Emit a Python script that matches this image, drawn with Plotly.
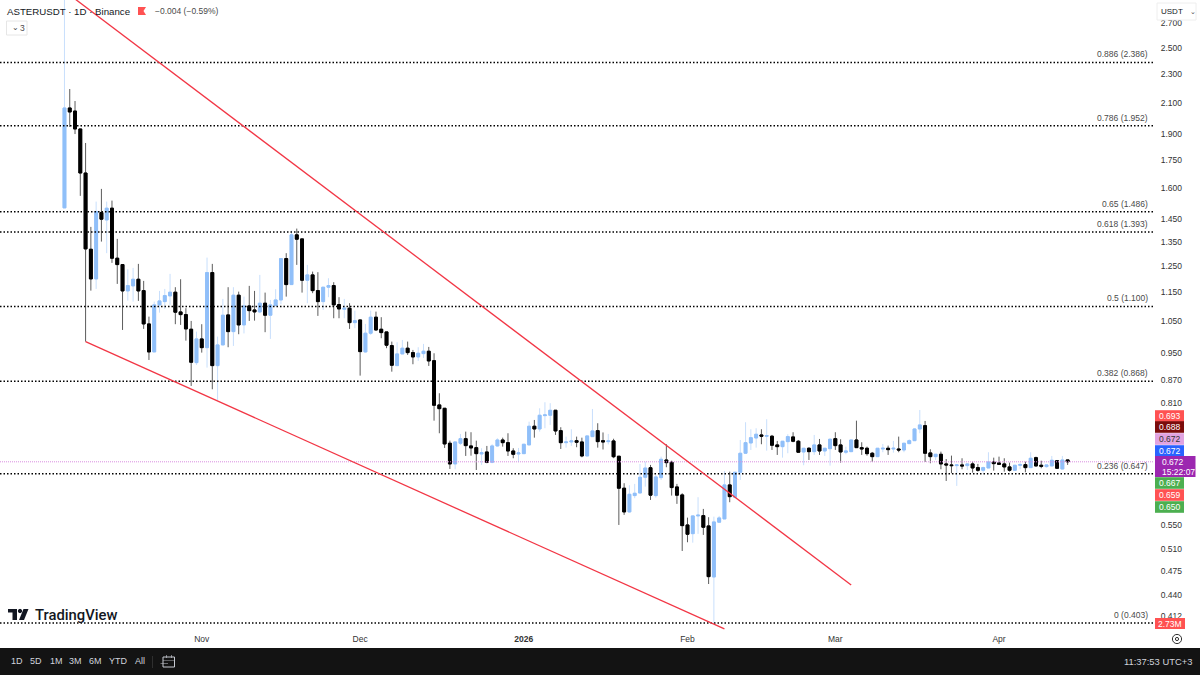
import numpy as np
import pandas as pd
import plotly.graph_objects as go

# Daily candles (first one 6 Oct 2025, last 14 Apr 2026).
dates = pd.date_range("2025-10-06", periods=191, freq="D")

opens = [
    1.504, 2.065, 2.045, 1.932, 1.680, 1.319, 1.2006, 1.4818, 1.4477, 1.5026, 1.2821, 1.2564, 1.1557, 1.1743, 1.1993, 1.1568,
    1.0408, .9523, 1.1056, 1.1171, 1.1376, 1.1510, 1.0812, 1.0720, 1.0234, .9205, .9924, .9653, 1.2249, .9118, .9737, 1.0710,
    1.0157, 1.1401, 1.0375, 1.1020, 1.0880, 1.0812, 1.1115, 1.0700, 1.1031, 1.1231, 1.2805, 1.1791, 1.3806, 1.3631, 1.1956, 1.2160,
    1.1568, 1.1171, 1.1694, 1.1754, 1.1066, 1.0905, 1.0940, 1.0451, 1.0540, .9523, 1.0106, 1.0632, 1.0234, 1.0147, .9716, .9118,
    .9463, .9636, .9502, .9373, .9472, .9544, .9263, .8049, .7964, .7128, .6675, .7128, .7232, .7067, .7029, .6890,
    .6933, .6710, .7067, .7202, .7141, .6955, .6890, .6896, .7090, .7523, .7458, .7780, .7790, .7914, .7418, .7141,
    .7157, .7186, .7157, .6846, .7279, .7418, .7186, .7164, .7180, .6840, .6180, .5732, .6037, .6087, .6399, .6595,
    .6037, .6391, .6759, .6710, .6205, .6050, .5500, .5350, .5660, .5665, .5483, .4663, .5548, .5606, .6245, .6006,
    .6501, .6905, .7134, .7248, .7318, .7288, .7288, .7090, .7051, .7164, .7272, .7173, .6933, .7015, .6940, .7090,
    .6955, .7006, .7232, .7090, .6927, .6940, .7202, .7029, .7015, .6905, .6831, .6999, .7015, .6999, .6999, .6977,
    .7119, .7186, .7458, .7537, .6912, .6831, .6883, .6675, .6654, .6639, .6654, .6639, .6675, .6597, .6542, .6590,
    .6717, .6696, .6675, .6612, .6542, .6647, .6660, .6597, .6809, .6647, .6618, .6633, .6744, .6569, .676,
]
highs = [
    3.0, 2.193, 2.111, 1.932, 1.848, 1.416, 1.5344, 1.5974, 1.5344, 1.5392, 1.3631, 1.2564, 1.2381, 1.2433, 1.2592, 1.1930,
    1.0652, 1.1171, 1.1557, 1.1630, 1.2199, 1.1694, 1.1993, 1.0940, 1.0507, 1.0157, 1.0399, 1.2846, 1.2592, .9997, 1.1267, 1.1694,
    1.1694, 1.1531, 1.1350, 1.1743, 1.1557, 1.2160, 1.1495, 1.1231, 1.1619, 1.2805, 1.3027, 1.3994, 1.4084, 1.3631, 1.2552, 1.2287,
    1.2264, 1.1694, 1.2032, 1.1881, 1.1329, 1.1267, 1.1115, 1.0856, 1.0540, 1.0408, 1.0856, 1.0822, 1.0632, 1.0147, .9840, .9821,
    .9892, .9840, .9583, .9666, .9768, .9675, .9483, .8353, .7964, .7186, .7157, .7341, .7395, .7381, .7186, .7015,
    .7067, .7105, .7241, .7255, .7357, .7015, .7022, .7105, .7633, .7674, .7964, .8118, .8093, .7914, .7499, .7279,
    .7451, .7279, .7255, .7295, .7946, .7595, .7376, .7341, .7230, .6840, .6279, .6239, .6265, .6675, .6723, .6654,
    .6446, .6831, .7105, .6744, .6265, .6082, .5629, .5660, .6006, .5787, .5637, .5647, .5660, .6527, .6513, .6501,
    .7202, .7619, .7451, .7475, .7451, .7691, .7318, .7180, .7173, .7334, .7381, .7202, .7015, .7038, .7318, .7225,
    .7015, .7241, .7381, .7218, .7051, .7202, .7657, .7150, .7051, .6933, .7015, .7112, .7074, .7180, .7279, .7128,
    .7218, .7475, .7921, .7650, .6993, .6883, .6940, .6780, .6853, .6654, .6796, .6675, .6723, .6675, .6618, .6927,
    .6809, .6831, .6796, .6702, .6647, .6702, .6723, .6927, .6831, .6744, .6654, .6846, .6759, .6846, .676,
]
lows = [
    1.504, 1.944, 1.901, 1.5625, .984, 1.1568, 1.1630, 1.3515, 1.3027, 1.2632, 1.1817, 1.0211, 1.1206, 1.1171, 1.1196, 1.0244,
    .9283, .9523, 1.0788, 1.0915, 1.1056, 1.0399, 1.0375, .9870, .8549, .9138, .9502, .9060, .8459, .8177, .9737, .9666,
    .9706, 1.0073, 1.0099, 1.0507, 1.0517, 1.0768, 1.0138, .9924, 1.1031, 1.1080, 1.1350, 1.1791, 1.2552, 1.1495, 1.1115, 1.1474,
    1.0676, 1.0880, 1.1329, 1.0597, 1.0597, 1.0597, 1.0244, 1.0267, .8833, .9502, 1.0052, 1.0189, .9946, .9636, .8945, .9118,
    .9463, .9433, .9158, .9254, .9343, .9109, .7657, .7357, .7022, .6569, .6563, .7090, .6846, .6852, .6548, .6654,
    .6689, .6689, .7051, .7051, .6846, .6796, .6710, .6896, .7090, .7255, .7395, .7475, .7554, .7318, .6999, .7029,
    .7067, .7038, .6818, .6846, .7279, .7029, .6988, .7101, .6798, .5500, .5678, .5719, .5987, .6087, .6211, .5954,
    .5998, .6344, .6605, .6037, .5880, .5064, .5206, .5199, .5346, .5329, .4560, .403, .5548, .5606, .5911, .5987,
    .6344, .6890, .6977, .7029, .7105, .6962, .6977, .6868, .6809, .6905, .7150, .6927, .6647, .6759, .6868, .6868,
    .6846, .6639, .6977, .6702, .6883, .6940, .7029, .6868, .6852, .6717, .6831, .6927, .6868, .6918, .6927, .6927,
    .7105, .7186, .7357, .6717, .6689, .6759, .6563, .6324, .6480, .6225, .6563, .6548, .6493, .6513, .6493, .6590,
    .6534, .6654, .6513, .6513, .6527, .6563, .6501, .6597, .6618, .6584, .6597, .6633, .6569, .6563, .6654,
]
closes = [
    2.065, 2.039, 1.932, 1.680, 1.3205, 1.2006, 1.4865, 1.4510, 1.5026, 1.2821, 1.2564, 1.1557, 1.1754, 1.1993, 1.1557, 1.0408,
    .9523, 1.1056, 1.1196, 1.1387, 1.1510, 1.0802, 1.0720, 1.0244, .9216, .9924, .9653, 1.2249, .9118, .9737, 1.0700, 1.0157,
    1.1401, 1.0375, 1.1020, 1.0856, 1.0812, 1.1115, 1.0700, 1.1056, 1.1231, 1.2805, 1.1791, 1.3806, 1.3618, 1.1956, 1.2160, 1.1568,
    1.1171, 1.1694, 1.1754, 1.1056, 1.0915, 1.0940, 1.0451, 1.0517, .9532, 1.0106, 1.0632, 1.0211, 1.0125, .9728, .9129, .9463,
    .9636, .9502, .9373, .9483, .9544, .9254, .8041, .7954, .7112, .6675, .7157, .7232, .7074, .7022, .6896, .6918,
    .6710, .7067, .7202, .7141, .6955, .6883, .6912, .7105, .7523, .7458, .7790, .7798, .7914, .7411, .7141, .7157,
    .7180, .7150, .6846, .7295, .7411, .7164, .7157, .7180, .6829, .6180, .5732, .6062, .6082, .6399, .6589, .6045,
    .6405, .6774, .6702, .6192, .6045, .5488, .5340, .5660, .5673, .5460, .4668, .5553, .5624, .6245, .6017, .6501,
    .6905, .7141, .7255, .7334, .7288, .7302, .7083, .7051, .7173, .7279, .7173, .6927, .7015, .6940, .7090, .6955,
    .7015, .7218, .7074, .6933, .6955, .7202, .7029, .6999, .6896, .6831, .7015, .7015, .6984, .7015, .6977, .7128,
    .7186, .7458, .7554, .6905, .6831, .6883, .6675, .6654, .6639, .6654, .6633, .6675, .6590, .6542, .6597, .6717,
    .6681, .6668, .6612, .6542, .6647, .6660, .6597, .6796, .6633, .6626, .6654, .6753, .6584, .6759, .672,
]

# Fibonacci retracement levels and the price axis ticks.
fib_levels = ["0.886", "0.786", "0.65", "0.618", "0.5", "0.382", "0.236", "0"]
fib_prices = [2.386, 1.952, 1.486, 1.393, 1.100, 0.868, 0.647, 0.403]
price_ticks = [2.7, 2.5, 2.3, 2.1, 1.9, 1.75, 1.6, 1.45, 1.35, 1.25, 1.15, 1.05, 0.95, 0.87, 0.81, 0.55, 0.51, 0.475, 0.44, 0.412]
month_dates = ["2025-11-01", "2025-12-01", "2026-01-01", "2026-02-01", "2026-03-01", "2026-04-01"]
month_labels = ["Nov", "Dec", "<b>2026</b>", "Feb", "Mar", "Apr"]

# Wedge trend lines.
upper_dates = ["2025-10-06", "2026-03-04"]
upper_prices = [2.993, 0.4547]
lower_dates = ["2025-10-10", "2026-02-08"]
lower_prices = [0.9838, 0.3954]
last_price = 0.672

# Coloured labels stacked on the price scale.
tag_texts = ["0.693", "0.688", "0.672", "0.672", "0.667", "0.659", "0.650"]
tag_colors = ["#ff5252", "#7b0c0c", "#e1a3e1", "#2962ff", "#4caf50", "#ff5252", "#4caf50"]
tag_rows = [416, 427, 439, 451, 483, 495, 507]

BLUE = "#90bff9"
BLUE_WICK = "#c8dffc"
BLACK_WICK = "#5c5c5c"
GREY = "#4a4a4a"
FONT = "Liberation Sans"
W, H = 1200, 675
PLOT_W, PLOT_H = 1153, 630
X_START, X_END = "2025-09-23 19:00", "2026-04-30 04:00"


# Screen pixels to paper coordinates, for the TradingView chrome around the chart.
def px(x):
    return x / PLOT_W


def py(y):
    return 1 - y / PLOT_H


def box(x0, y0, x1, y1, fill, line=None):
    return dict(type="rect", xref="paper", yref="paper", x0=px(x0), x1=px(x1), y0=py(y0), y1=py(y1),
                fillcolor=fill, line=dict(color=line or fill, width=1 if line else 0), layer="above")


def poly(points, fill):
    path = "M " + " L ".join(f"{px(x)},{py(y)}" for x, y in points) + " Z"
    return dict(type="path", xref="paper", yref="paper", path=path, fillcolor=fill, line=dict(width=0), layer="above")


def ring(cx, cy, r, line, fill="rgba(0,0,0,0)"):
    return dict(type="circle", xref="paper", yref="paper", x0=px(cx - r), x1=px(cx + r), y0=py(cy + r), y1=py(cy - r),
                fillcolor=fill, line=dict(color=line, width=1), layer="above")


def label(x, y, text, size=8.5, color=GREY, anchor="left", family=FONT, weight=None):
    font = dict(family=family, size=size, color=color)
    if weight:
        font["weight"] = weight
    return dict(xref="paper", yref="paper", x=px(x), y=py(y), text=text, showarrow=False, xanchor=anchor,
                yanchor="middle", font=font, borderpad=0)


fig = go.Figure()

# Dotted levels and the last price line go under the candles.
for price in fib_prices:
    fig.add_trace(go.Scatter(x=[X_START, X_END], y=[price, price], mode="lines", hoverinfo="skip",
                             line=dict(color="#000000", width=1.5, dash="1.5px 2px")))
fig.add_trace(go.Scatter(x=[X_START, X_END], y=[last_price, last_price], mode="lines", hoverinfo="skip",
                         line=dict(color="#d98ee0", width=1, dash="1px 1px")))

# Wicks first, then the bodies on top so they keep their full colour.
fig.add_trace(go.Candlestick(x=dates, open=opens, high=highs, low=lows, close=closes,
                             increasing=dict(line=dict(color=BLUE_WICK, width=1), fillcolor=BLUE),
                             decreasing=dict(line=dict(color=BLACK_WICK, width=1), fillcolor="#000000")))
body_high = np.maximum(opens, closes)
body_low = np.minimum(opens, closes)
fig.add_trace(go.Candlestick(x=dates, open=opens, high=body_high, low=body_low, close=closes,
                             increasing=dict(line=dict(color=BLUE, width=1), fillcolor=BLUE),
                             decreasing=dict(line=dict(color="#000000", width=1), fillcolor="#000000")))

fig.add_trace(go.Scatter(x=upper_dates, y=upper_prices, mode="lines", line=dict(color="#f23645", width=1.3)))
fig.add_trace(go.Scatter(x=lower_dates, y=lower_prices, mode="lines", line=dict(color="#f23645", width=1.3)))

annotations = []
for level, price in zip(fib_levels, fib_prices):
    annotations.append(dict(xref="paper", yref="y", x=px(1149), y=np.log10(price), text=f"{level} ({price:.3f})",
                            showarrow=False, xanchor="right", yanchor="bottom", yshift=2,
                            font=dict(family=FONT, size=8.5, color=GREY), borderpad=0))

# Legend header, top left.
shapes = [
    poly([(138, 7), (146, 7), (143.5, 11), (146, 15), (138, 15)], "#ff5252"),
    box(6.5, 21, 27, 35, "#ffffff", "#e6e6e6"),
    box(1157, 3, 1196, 20, "#ffffff", "#eeeeee"),
]
annotations += [
    label(6, 11, "ASTERUSDT · 1D · Binance", size=9.7, color="#131722"),
    label(154, 11, "−0.004 (−0.59%)", color=GREY),
    label(11, 28, "⌄", size=8, color=GREY),
    label(19, 28, "3", color=GREY),
    label(1160, 11, "USDT", size=8, color="#131722"),
    label(1189, 11, "⌄", size=7, color=GREY),
]

# Price scale labels.
for text, color, row in zip(tag_texts, tag_colors, tag_rows):
    shapes.append(box(1155, row - 5.8, 1184, row + 5.8, color))
    annotations.append(label(1169.5, row, text, color="#333333" if color == "#e1a3e1" else "#ffffff", anchor="center"))
shapes.append(box(1155, 456, 1195.5, 477, "#9c27b0"))
annotations.append(label(1161, 462, "0.672", color="#ffffff"))
annotations.append(label(1161, 472, "15:22:07", color="#ffffff"))
shapes.append(box(1155, 618, 1185, 629, "#ff5252"))
annotations.append(label(1170, 623.5, "2.73M", color="#ffffff", anchor="center"))

# TradingView logo.
shapes += [
    box(8, 609, 17, 612.5, "#131722"),
    box(12.5, 609, 17, 620, "#131722"),
    ring(20, 611, 1.7, "#131722", "#131722"),
    poly([(23.5, 609), (28.5, 609), (24, 620), (19, 620)], "#131722"),
]
annotations.append(label(33.5, 615, "TradingView", size=14.8, color="#131722", family="Roboto", weight=500))

# Bottom toolbar and settings icon.
shapes += [
    box(0, 648, W, H, "#131313"),
    box(152, 656, 152.6, 668, "#434343"),
    box(163, 657, 174.5, 667, "#131313", "#c8cbd3"),
    box(163, 660, 174.5, 660.4, "#c8cbd3"),
    box(166, 655, 166.6, 658, "#c8cbd3"),
    box(171, 655, 171.6, 658, "#c8cbd3"),
    box(160.5, 663.5, 168, 664, "#c8cbd3"),
    ring(1177, 639, 4.6, "#333333"),
    ring(1177, 639, 1.6, "#333333"),
]
for x, text in zip([10, 29, 49, 68, 88, 108, 134], ["1D", "5D", "1M", "3M", "6M", "YTD", "All"]):
    annotations.append(label(x, 661, text, size=9, color="#d1d4dc"))
annotations.append(label(1193, 661, "11:37:53 UTC+3", size=9.4, color="#d1d4dc", anchor="right"))

fig.update_layout(
    width=W, height=H, margin=dict(l=0, r=W - PLOT_W, t=0, b=H - PLOT_H),
    paper_bgcolor="#ffffff", plot_bgcolor="#ffffff", showlegend=False, boxgap=0.22,
    shapes=shapes, annotations=annotations, hovermode=False,
    xaxis=dict(range=[X_START, X_END], rangeslider=dict(visible=False), showgrid=False, zeroline=False,
               tickvals=month_dates, ticktext=month_labels, ticks="outside", ticklen=1, tickcolor="#ffffff",
               tickfont=dict(family=FONT, size=8.5, color="#333333")),
    yaxis=dict(type="log", side="right", range=[-0.4044, 0.4637], showgrid=False, zeroline=False,
               tickvals=price_ticks, ticktext=[f"{t:.3f}" for t in price_ticks], ticks="outside", ticklen=5,
               tickcolor="#ffffff", tickfont=dict(family=FONT, size=8.5, color="#333333")),
)

fig.write_html("out.html", post_script="document.body.style.margin='0';", config=dict(displayModeBar=False))
